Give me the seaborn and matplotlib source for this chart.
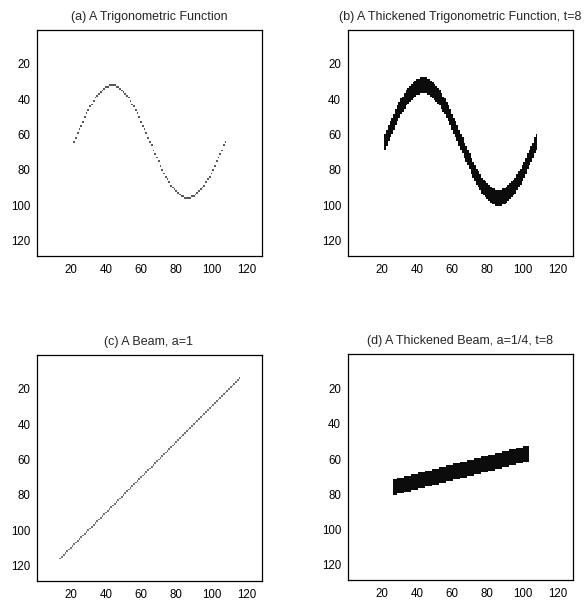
import numpy as np
import matplotlib
matplotlib.use("Agg")
import matplotlib.pyplot as plt
import seaborn as sns

# ======================
# 1. style
# ======================
sns.set_style("ticks")
plt.rcParams['font.family'] = ['Liberation Sans', 'DejaVu Sans']

# ======================
# 2. data (128x128 binary images, 1-based pixel columns / rows)
# ======================
N = 128
TICKS = [20, 40, 60, 80, 100, 120]
THICK = 8

# sine curve, one pixel per column
SINE_X = list(range(22, 109))
SINE_Y = [64, 62, 59, 57, 55, 53, 50, 48, 46, 44,
          43, 41, 39, 38, 37, 36, 35, 34, 33, 33,
          32, 32, 32, 32, 33, 33, 34, 35, 36, 37,
          38, 39, 41, 43, 44, 46, 48, 50, 53, 55,
          57, 59, 62, 64,
          66, 69, 71, 73, 75, 78, 80, 82, 84, 85,
          87, 89, 90, 91, 92, 93, 94, 95, 95, 96,
          96, 96, 96, 95, 95, 94, 93, 92, 91, 90,
          89, 87, 85, 84, 82, 80, 78, 75, 73, 71,
          69, 66, 64]

# beam, a=1
BEAM1_X = list(range(14, 117))
BEAM1_Y = [116, 115, 114, 113, 112, 111, 110, 109, 108, 107,
           106, 105, 104, 103, 102, 101, 100, 99, 98, 97,
           96, 95, 94, 93, 92, 91, 90, 89, 88, 87,
           86, 85, 84, 83, 82, 81, 80, 79, 78, 77,
           76, 75, 74, 73, 72, 71, 70, 69, 68, 67,
           66, 65, 64, 63, 62, 61, 60, 59, 58, 57,
           56, 55, 54, 53, 52, 51, 50, 49, 48, 47,
           46, 45, 44, 43, 42, 41, 40, 39, 38, 37,
           36, 35, 34, 33, 32, 31, 30, 29, 28, 27,
           26, 25, 24, 23, 22, 21, 20, 19, 18, 17,
           16, 15, 14]

# beam, a=1/4 (centre line)
BEAM4_X = list(range(27, 104))
BEAM4_Y = [76, 76,
           75, 75, 75, 75, 74, 74, 74, 74, 73, 73, 73, 73,
           72, 72, 72, 72, 71, 71, 71, 71, 70, 70, 70, 70,
           69, 69, 69, 69, 68, 68, 68, 68, 67, 67, 67, 67,
           66, 66, 66, 66, 65, 65, 65, 65, 64, 64, 64, 64,
           63, 63, 63, 63, 62, 62, 62, 62, 61, 61, 61, 61,
           60, 60, 60, 60, 59, 59, 59, 59, 58, 58, 58, 58,
           57, 57, 57]

TITLES = ["(a) A Trigonometric Function",
          "(b) A Thickened Trigonometric Function, t=8",
          "(c) A Beam, a=1",
          "(d) A Thickened Beam, a=1/4, t=8"]


def make_image(xs, ys, t=0, level=1.0):
    """put the curve into a 128x128 image, thickened vertically by t"""
    img = np.zeros((N, N))
    half = t // 2
    for x, y in zip(xs, ys):
        img[y - 1 - half:y + half, x - 1] = level
    return img


def draw(ax, img, title, smooth=False):
    sns.heatmap(img, ax=ax, cmap='gray_r', vmin=0, vmax=1, cbar=False,
                xticklabels=False, yticklabels=False)
    if smooth:
        ax.collections[0].set_antialiased(True)
    for s in ax.spines.values():
        s.set_visible(True)
        s.set_linewidth(0.9)
        s.set_color('black')
    pos = [t - 0.5 for t in TICKS]
    ax.set_xticks(pos)
    ax.set_xticklabels(TICKS, rotation=0)
    ax.set_yticks(pos)
    ax.set_yticklabels(TICKS, rotation=0)
    ax.set_xlim(0, N)
    ax.set_ylim(N, 0)
    ax.tick_params(direction='in', top=True, right=True, length=3,
                   width=0.6, labelsize=8.3, colors='black')
    ax.tick_params(axis='x', pad=5.8)
    ax.tick_params(axis='y', pad=4.5)
    ax.set_title(title, fontsize=9, pad=7)


# ======================
# 3. figure
# ======================
W, H = 587, 600
fig = plt.figure(figsize=(W / 100, H / 100), dpi=100)

images = [make_image(SINE_X, SINE_Y, level=0.65),
          make_image(SINE_X, SINE_Y, t=THICK, level=0.95),
          make_image(BEAM1_X, BEAM1_Y, level=0.55),
          make_image(BEAM4_X, BEAM4_Y, t=THICK, level=0.95)]
smooth = [True, False, True, False]

boxes = [(36.5, 255.5), (347.5, 255.5), (36.5, 580.5), (347.5, 580)]
for img, title, sm, (left, bottom) in zip(images, TITLES, smooth, boxes):
    ax = fig.add_axes([left / W, 1 - bottom / H, 225 / W, 226 / H])
    draw(ax, img, title, smooth=sm)

fig.savefig("out.png", dpi=100)
